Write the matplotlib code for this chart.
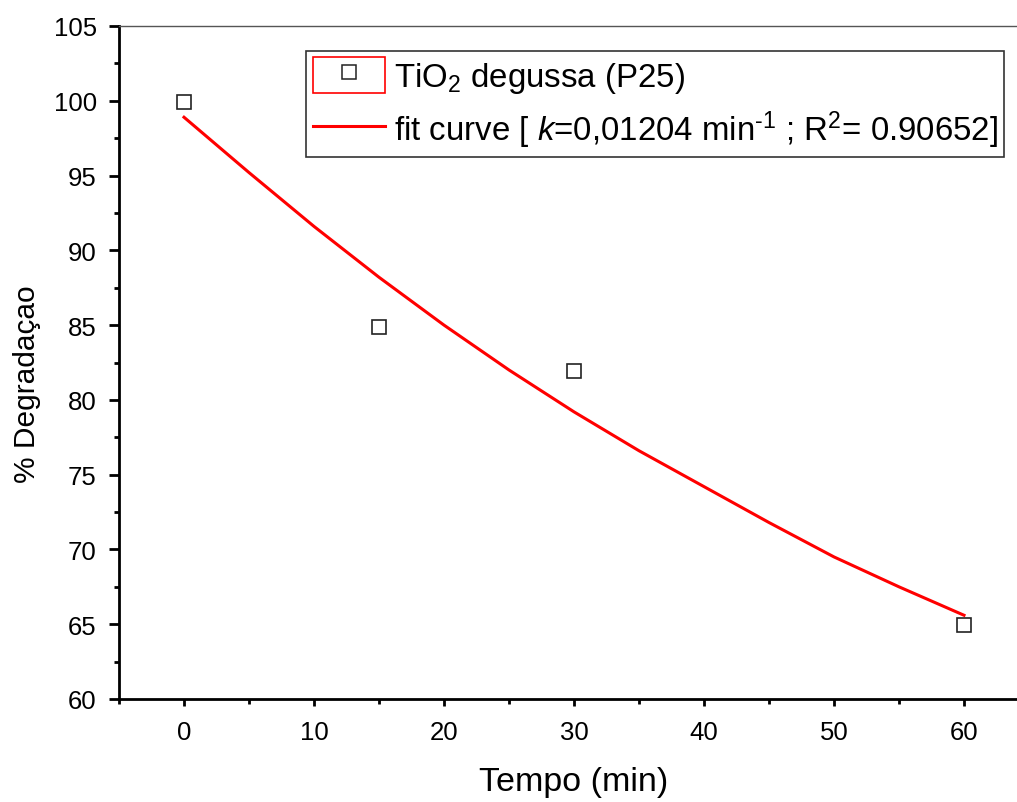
import matplotlib
matplotlib.use("Agg")
import matplotlib.pyplot as plt
from matplotlib.patches import Rectangle
from matplotlib.lines import Line2D
from matplotlib.legend_handler import HandlerTuple
from matplotlib.ticker import MultipleLocator

plt.rcParams['font.family'] = ['Liberation Sans', 'DejaVu Sans']
plt.rcParams['mathtext.fontset'] = 'custom'
plt.rcParams['mathtext.rm'] = 'Liberation Sans'
plt.rcParams['mathtext.it'] = 'Liberation Sans:italic'

# measured points
tempo = [0, 15, 30, 60]
degradacao = [99.9, 84.9, 81.95, 64.95]

# fit curve
fit_t = [0, 5, 10, 15, 20, 25, 30, 35, 40, 45, 50, 55, 60]
fit_y = [98.9, 95.2, 91.6, 88.2, 85.0, 82.0, 79.2, 76.6, 74.2, 71.8, 69.5, 67.5, 65.6]

label_pts = r'TiO$_2$ degussa (P25)'
label_fit = r'fit curve [ $k$=0,01204 min$^{\text{-}1}$ ; R$^2$= 0.90652]'

fig = plt.figure(figsize=(10.17, 8.03), dpi=100)
ax = fig.add_axes([119 / 1017, 1 - 700 / 803, 910 / 1017, 673 / 803])

ax.plot(fit_t, fit_y, color='red', lw=2.2, zorder=2)
ax.plot(tempo, degradacao, ls='none', marker='s', ms=9.8, mfc='white',
        mec='#222222', mew=1.2, zorder=3)

ax.set_xlim(-5, 65)
ax.set_ylim(60, 105)
ax.xaxis.set_major_locator(MultipleLocator(10))
ax.xaxis.set_minor_locator(MultipleLocator(5))
ax.yaxis.set_major_locator(MultipleLocator(5))
ax.yaxis.set_minor_locator(MultipleLocator(2.5))

for s in ['left', 'bottom']:
    ax.spines[s].set_linewidth(2.0)
    ax.spines[s].set_color('black')
ax.spines['top'].set_linewidth(1.0)
ax.spines['top'].set_color('#555555')
ax.spines['right'].set_visible(False)

ax.tick_params(axis='y', which='major', direction='out', length=7, width=2, labelsize=18.5, pad=9)
ax.tick_params(axis='y', which='minor', direction='out', length=3.5, width=2)
ax.tick_params(axis='x', which='major', direction='out', length=5, width=2, labelsize=18.5, pad=10)
ax.tick_params(axis='x', which='minor', direction='out', length=3.5, width=2)

ax.set_xlabel('Tempo (min)', fontsize=24.5)
ax.xaxis.set_label_coords(0.5, (700 - 783) / 673)
ax.xaxis.label.set_va('center')
fig.text(27 / 1017, 1 - 384 / 803, '% Degradaçao', rotation=90, fontsize=21.5,
         ha='center', va='center')

box = Rectangle((0, 0), 1, 1, facecolor='white', edgecolor='red', lw=1.2)
sq = Line2D([], [], ls='none', marker='s', ms=9.4, mfc='white', mec='#222222', mew=1.1)
fit_line = Line2D([], [], color='red', lw=2.2)

leg = fig.legend([(box, sq), fit_line], [label_pts, label_fit],
                 handler_map={tuple: HandlerTuple(ndivide=1)},
                 loc='upper left', bbox_to_anchor=(306 / 1017, 1 - 51.7 / 803),
                 borderaxespad=0, fontsize=23.8, frameon=True, fancybox=False,
                 edgecolor='#333333', framealpha=1, borderpad=0.2,
                 handlelength=2.2, handleheight=1.3, handletextpad=0.25,
                 labelspacing=0.4)
leg.get_frame().set_linewidth(1.2)

fig.savefig('out.png', dpi=100)
